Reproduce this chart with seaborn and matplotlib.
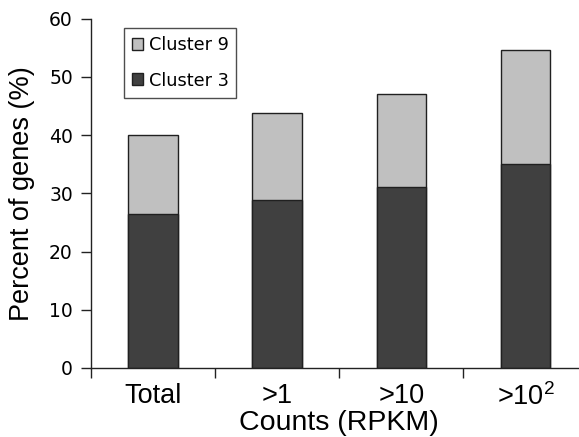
import numpy as np
import pandas as pd
import matplotlib
matplotlib.use("Agg")
import matplotlib.pyplot as plt
from matplotlib.patches import Patch
import seaborn as sns

categories = ["Total", ">1", ">10", r">10$^{\mathregular{2}}$"]
cluster3 = [26.4, 28.9, 31.1, 35.0]
cluster9 = [13.6, 14.9, 16.0, 19.6]

sns.set_theme(style="white")
plt.rcParams.update({
    "font.family": ["Liberation Sans", "DejaVu Sans"],
    "mathtext.fontset": "custom",
    "mathtext.rm": "Liberation Sans",
    "mathtext.it": "Liberation Sans",
    "text.color": "black",
    "axes.labelcolor": "black",
    "xtick.color": "black",
    "ytick.color": "black",
})

df = pd.DataFrame({
    "cat": categories,
    "c3": cluster3,
    "total": np.array(cluster3) + np.array(cluster9),
})

fig = plt.figure(figsize=(5.79, 4.37), dpi=100)
ax = fig.add_axes([0.157, 0.158, 0.858, 0.799])

dark = "#404040"
light = "#c0c0c0"
sns.barplot(data=df, x="cat", y="total", color=light, width=0.4,
            edgecolor="#202020", linewidth=1, saturation=1, ax=ax)
sns.barplot(data=df, x="cat", y="c3", color=dark, width=0.4,
            edgecolor="#202020", linewidth=1, saturation=1, ax=ax)

ax.set_xlim(-0.5, 3.5)
ax.set_ylim(0, 60)
ax.set_yticks(np.arange(0, 61, 10))
ax.set_yticklabels([str(v) for v in range(0, 61, 10)], family="DejaVu Sans",
                   fontsize=13.5)
ax.set_xticks(np.arange(-0.5, 3.6, 1.0))
ax.set_xticklabels([])
ax.set_xticks(np.arange(4), minor=True)
ax.set_xticklabels(categories, minor=True, fontsize=19.5)
ax.tick_params(axis="x", which="minor", length=0, pad=11)
ax.tick_params(axis="x", which="major", length=7, width=1, color="#222222", direction="out", bottom=True)
ax.tick_params(axis="y", length=7, width=1, color="#222222", direction="out", left=True, pad=6)

for s in ["top", "right"]:
    ax.spines[s].set_visible(False)
for s in ["left", "bottom"]:
    ax.spines[s].set_color("#222222")
    ax.spines[s].set_linewidth(1)

ax.set_xlabel("Counts (RPKM)", fontsize=20.5, labelpad=-1)
ax.set_ylabel("Percent of genes (%)", fontsize=19.5, labelpad=10)

handles = [Patch(facecolor=light, edgecolor="#202020", label="Cluster 9"),
           Patch(facecolor=dark, edgecolor="#202020", label="Cluster 3")]
leg = ax.legend(handles=handles, loc="upper left", bbox_to_anchor=(0.066, 0.974),
                borderaxespad=0, frameon=True, fancybox=False, edgecolor="#222222",
                handlelength=0.65, handleheight=0.65, handletextpad=0.3,
                labelspacing=1.0, prop={"family": "DejaVu Sans", "size": 12.8},
                borderpad=0.45)
leg.get_frame().set_linewidth(1)

fig.savefig("out.png", dpi=100)
